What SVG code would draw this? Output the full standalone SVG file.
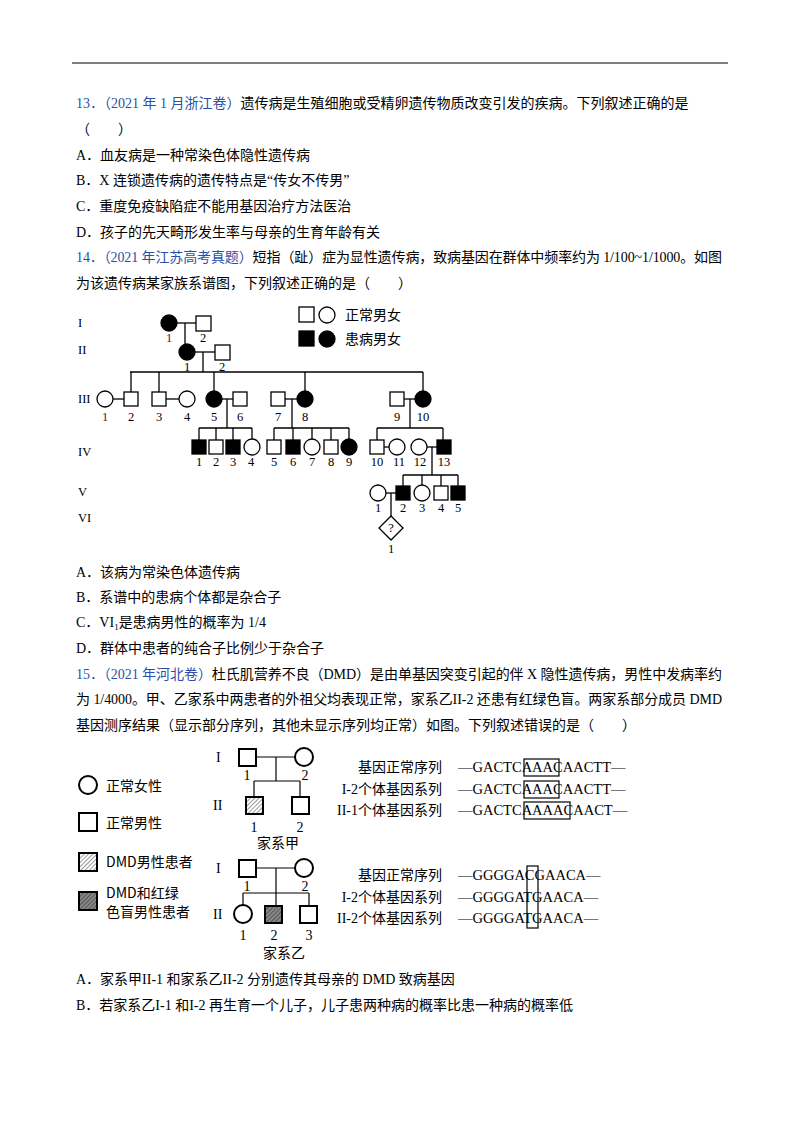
<svg xmlns="http://www.w3.org/2000/svg" width="800" height="1132" viewBox="0 0 800 1132">
<style>
text{font-family:"Liberation Serif","Noto Sans CJK SC",serif;font-size:14px;fill:#000}
.b{fill:#2a4fa8}
.s{font-size:12.5px;fill:#000}
.m{fill:none;stroke:#000;stroke-width:1.3}
.f{fill:#000;stroke:#000;stroke-width:1.3}
.h{fill:url(#hat);stroke:#000;stroke-width:2}
.h2{fill:url(#hat2);stroke:#000;stroke-width:2}
.o{fill:#fff;stroke:#000;stroke-width:2}
.c{fill:none;stroke:#000;stroke-width:1.3}
.c2{fill:none;stroke:#000;stroke-width:1.2}
.k{font-family:"Noto Sans CJK SC",sans-serif}
.sq{font-family:"Liberation Serif",serif;font-size:14.5px}
</style>
<defs>
<pattern id="hat" width="3" height="3" patternUnits="userSpaceOnUse" patternTransform="rotate(45)"><rect width="3" height="3" fill="#fff"/><line x1="0" y1="0" x2="0" y2="3" stroke="#555" stroke-width="1.2"/></pattern>
<pattern id="hat2" width="3" height="3" patternUnits="userSpaceOnUse" patternTransform="rotate(45)"><rect width="3" height="3" fill="#888"/><line x1="0" y1="0" x2="0" y2="3" stroke="#333" stroke-width="1.2"/></pattern>
</defs>
<line x1="72" y1="63" x2="728" y2="63" stroke="#000" stroke-width="1"/>
<text x="76" y="108"><tspan class="b">13．（2021 年 1 月浙江卷）</tspan>遗传病是生殖细胞或受精卵遗传物质改变引发的疾病。下列叙述正确的是</text>
<text x="76" y="134">（　　）</text>
<text x="76" y="160">A．血友病是一种常染色体隐性遗传病</text>
<text x="76" y="185">B．X 连锁遗传病的遗传特点是“传女不传男”</text>
<text x="76" y="211">C．重度免疫缺陷症不能用基因治疗方法医治</text>
<text x="76" y="237">D．孩子的先天畸形发生率与母亲的生育年龄有关</text>
<text x="76" y="262" textLength="646"><tspan class="b">14．（2021 年江苏高考真题）</tspan>短指（趾）症为显性遗传病，致病基因在群体中频率约为 1/100~1/1000。如图</text>
<text x="76" y="288">为该遗传病某家族系谱图，下列叙述正确的是（　　）</text>

<g id="pedigree14">
<g>
<text x="78" y="327" class="s">I</text><text x="78" y="354" class="s">II</text><text x="78" y="403" class="s">III</text><text x="78" y="456" class="s">IV</text><text x="78" y="496" class="s">V</text><text x="78" y="522" class="s">VI</text>
</g>
<g id="legend14">
<rect x="299" y="307" width="15" height="15" class="m"/><circle cx="327" cy="315" r="8" class="m"/>
<text x="345" y="320" font-size="12">正常男女</text>
<rect x="299" y="331" width="15" height="15" class="f"/><circle cx="327" cy="339" r="8" class="f"/>
<text x="345" y="344" font-size="12">患病男女</text>
</g>
<g id="connectors14" class="c">
<line x1="177" y1="323" x2="196" y2="323"/><line x1="185" y1="323" x2="185" y2="344"/>
<line x1="195" y1="352" x2="215" y2="352"/><line x1="203" y1="352" x2="203" y2="372"/>
<line x1="130" y1="372" x2="423" y2="372"/>
<line x1="131" y1="372" x2="131" y2="392"/><line x1="159" y1="372" x2="159" y2="392"/>
<line x1="214" y1="372" x2="214" y2="391"/><line x1="305" y1="372" x2="305" y2="391"/><line x1="423" y1="372" x2="423" y2="391"/>
<line x1="113" y1="399" x2="124" y2="399"/><line x1="166" y1="399" x2="179" y2="399"/>
<line x1="222" y1="399" x2="233" y2="399"/><line x1="227" y1="399" x2="227" y2="428"/>
<line x1="199" y1="428" x2="252" y2="428"/>
<line x1="199" y1="428" x2="199" y2="440"/><line x1="216" y1="428" x2="216" y2="440"/><line x1="233" y1="428" x2="233" y2="440"/><line x1="252" y1="428" x2="252" y2="439"/>
<line x1="285" y1="399" x2="297" y2="399"/><line x1="292" y1="399" x2="292" y2="428"/>
<line x1="274" y1="428" x2="349" y2="428"/>
<line x1="274" y1="428" x2="274" y2="440"/><line x1="293" y1="428" x2="293" y2="440"/><line x1="312" y1="428" x2="312" y2="439"/><line x1="331" y1="428" x2="331" y2="440"/><line x1="349" y1="428" x2="349" y2="439"/>
<line x1="404" y1="399" x2="415" y2="399"/><line x1="410" y1="399" x2="410" y2="428"/>
<line x1="377" y1="428" x2="443" y2="428"/>
<line x1="377" y1="428" x2="377" y2="440"/><line x1="443" y1="428" x2="443" y2="440"/>
<line x1="384" y1="447" x2="389" y2="447"/><line x1="427" y1="447" x2="437" y2="447"/>
<line x1="432" y1="447" x2="432" y2="475"/>
<line x1="403" y1="475" x2="458" y2="475"/>
<line x1="403" y1="475" x2="403" y2="486"/><line x1="422" y1="475" x2="422" y2="485"/><line x1="441" y1="475" x2="441" y2="486"/><line x1="458" y1="475" x2="458" y2="486"/>
<line x1="386" y1="493" x2="396" y2="493"/><line x1="391" y1="493" x2="391" y2="516"/>
</g>
<g id="nodes14">
<circle cx="169" cy="323" r="8" class="f"/><rect x="196" y="316" width="15" height="15" class="m"/>
<circle cx="187" cy="352" r="8" class="f"/><rect x="215" y="345" width="15" height="15" class="m"/>
<circle cx="105" cy="399" r="8" class="m"/><rect x="124" y="392" width="14" height="14" class="m"/>
<rect x="152" y="392" width="14" height="14" class="m"/><circle cx="187" cy="399" r="8" class="m"/>
<circle cx="214" cy="399" r="8" class="f"/><rect x="233" y="392" width="14" height="14" class="m"/>
<rect x="271" y="392" width="14" height="14" class="m"/><circle cx="305" cy="399" r="8" class="f"/>
<rect x="390" y="392" width="14" height="14" class="m"/><circle cx="423" cy="399" r="8" class="f"/>
<rect x="192" y="440" width="14" height="14" class="f"/><rect x="209" y="440" width="14" height="14" class="m"/>
<rect x="226" y="440" width="14" height="14" class="f"/><circle cx="252" cy="447" r="8" class="m"/>
<rect x="267" y="440" width="14" height="14" class="m"/><rect x="286" y="440" width="14" height="14" class="f"/>
<circle cx="312" cy="447" r="8" class="m"/><rect x="324" y="440" width="14" height="14" class="m"/>
<circle cx="349" cy="447" r="8" class="f"/>
<rect x="370" y="440" width="14" height="14" class="m"/><circle cx="397" cy="447" r="8" class="m"/>
<circle cx="419" cy="447" r="8" class="m"/><rect x="437" y="440" width="14" height="14" class="f"/>
<circle cx="378" cy="493" r="8" class="m"/><rect x="396" y="486" width="14" height="14" class="f"/>
<circle cx="422" cy="493" r="8" class="m"/><rect x="434" y="486" width="14" height="14" class="m"/>
<rect x="451" y="486" width="14" height="14" class="f"/>
<polygon points="391,516 403,528 391,540 379,528" class="m"/>
<text x="391" y="532" text-anchor="middle" class="s">?</text>
</g>
<g text-anchor="middle">
<text x="169" y="342" class="s" style="fill:#8b0000">1</text><text x="203" y="342" class="s">2</text>
<text x="187" y="371" class="s">1</text><text x="222" y="371" class="s">2</text>
<text x="105" y="421" class="s" style="fill:#8b0000">1</text><text x="131" y="421" class="s">2</text><text x="159" y="421" class="s">3</text><text x="187" y="421" class="s">4</text><text x="214" y="421" class="s">5</text><text x="240" y="421" class="s">6</text><text x="278" y="421" class="s">7</text><text x="305" y="421" class="s">8</text><text x="397" y="421" class="s">9</text><text x="423" y="421" class="s">10</text>
<text x="199" y="466" class="s">1</text><text x="216" y="466" class="s">2</text><text x="233" y="466" class="s">3</text><text x="251" y="466" class="s">4</text><text x="274" y="466" class="s">5</text><text x="293" y="466" class="s">6</text><text x="312" y="466" class="s">7</text><text x="331" y="466" class="s">8</text><text x="349" y="466" class="s">9</text><text x="377" y="466" class="s">10</text><text x="399" y="466" class="s">11</text><text x="420" y="466" class="s">12</text><text x="444" y="466" class="s">13</text>
<text x="378" y="512" class="s">1</text><text x="403" y="512" class="s">2</text><text x="422" y="512" class="s">3</text><text x="441" y="512" class="s">4</text><text x="458" y="512" class="s">5</text>
<text x="391" y="553" class="s">1</text>
</g>
</g>

<text x="76" y="577">A．该病为常染色体遗传病</text>
<text x="76" y="602">B．系谱中的患病个体都是杂合子</text>
<text x="76" y="627">C．VI<tspan font-size="9" dy="3">1</tspan><tspan dy="-3">是患病男性的概率为 1/4</tspan></text>
<text x="76" y="653">D．群体中患者的纯合子比例少于杂合子</text>
<text x="76" y="679" textLength="646"><tspan class="b">15．（2021 年河北卷）</tspan>杜氏肌营养不良（DMD）是由单基因突变引起的伴 X 隐性遗传病，男性中发病率约</text>
<text x="76" y="704" textLength="646">为 1/4000。甲、乙家系中两患者的外祖父均表现正常，家系乙II-2 还患有红绿色盲。两家系部分成员 DMD</text>
<text x="76" y="730">基因测序结果（显示部分序列，其他未显示序列均正常）如图。下列叙述错误的是（　　）</text>

<g id="figure15">
<g id="legend15">
<circle cx="88" cy="785" r="9" class="o"/><text x="106" y="791" class="k">正常女性</text>
<rect x="79" y="813" width="18" height="18" class="o"/><text x="106" y="828" class="k">正常男性</text>
<rect x="79" y="853" width="18" height="18" class="h"/><text x="106" y="867" class="k">DMD男性患者</text>
<rect x="79" y="892" width="18" height="18" class="h2"/><text x="106" y="898" class="k">DMD和红绿</text><text x="106" y="917" class="k">色盲男性患者</text>
</g>
<g id="connectors15" class="c2">
<line x1="256" y1="757" x2="295" y2="757"/><line x1="276" y1="757" x2="276" y2="781"/>
<line x1="254" y1="781" x2="300" y2="781"/><line x1="254" y1="781" x2="254" y2="796"/><line x1="300" y1="781" x2="300" y2="796"/>
<line x1="256" y1="868" x2="295" y2="868"/><line x1="276" y1="868" x2="276" y2="905"/>
<line x1="243" y1="893" x2="309" y2="893"/><line x1="243" y1="893" x2="243" y2="905"/><line x1="309" y1="893" x2="309" y2="905"/>
</g>
<g id="fam-jia">
<text x="216" y="762">I</text><text x="213" y="810">II</text>
<rect x="239" y="749" width="17" height="17" class="o"/><circle cx="304" cy="757" r="9" class="o"/>
<rect x="246" y="797" width="17" height="17" class="h"/><rect x="292" y="797" width="17" height="17" class="o"/>
<text x="247" y="780" text-anchor="middle">1</text><text x="305" y="780" text-anchor="middle">2</text>
<text x="254" y="832" text-anchor="middle">1</text><text x="300" y="832" text-anchor="middle">2</text>
<text x="278" y="848" text-anchor="middle" class="k">家系甲</text>
</g>
<g id="fam-yi">
<text x="216" y="873">I</text><text x="213" y="919">II</text>
<rect x="239" y="860" width="17" height="17" class="o"/><circle cx="304" cy="868" r="9" class="o"/>
<circle cx="243" cy="914" r="9" class="o"/><rect x="265" y="906" width="17" height="17" class="h2"/><rect x="300" y="906" width="17" height="17" class="o"/>
<text x="247" y="891" text-anchor="middle">1</text><text x="305" y="891" text-anchor="middle">2</text>
<text x="243" y="940" text-anchor="middle">1</text><text x="274" y="940" text-anchor="middle">2</text><text x="309" y="940" text-anchor="middle">3</text>
<text x="284" y="958" text-anchor="middle" class="k">家系乙</text>
</g>
<g id="seq">
<text x="442" y="772" text-anchor="end">基因正常序列</text>
<text x="442" y="794" text-anchor="end">I-2个体基因系列</text>
<text x="442" y="815" text-anchor="end">II-1个体基因系列</text>
<text x="458" y="772" class="sq">—GACTCAAACAACTT—</text>
<text x="458" y="794" class="sq">—GACTCAAACAACTT—</text>
<text x="458" y="815" class="sq">—GACTCAAAACAACT—</text>
<rect x="524" y="759" width="35" height="17" class="c2"/>
<rect x="524" y="781" width="35" height="17" class="c2"/>
<rect x="524" y="802" width="46" height="17" class="c2"/>
<text x="442" y="880" text-anchor="end">基因正常序列</text>
<text x="442" y="902" text-anchor="end">I-2个体基因系列</text>
<text x="442" y="923" text-anchor="end">II-2个体基因系列</text>
<text x="458" y="880" class="sq">—GGGGACGAACA—</text>
<text x="458" y="902" class="sq">—GGGGATGAACA—</text>
<text x="458" y="923" class="sq">—GGGGATGAACA—</text>
<rect x="527" y="866" width="11" height="62" class="c2"/>
</g>
</g>

<text x="76" y="984">A．家系甲II-1 和家系乙II-2 分别遗传其母亲的 DMD 致病基因</text>
<text x="76" y="1010">B．若家系乙I-1 和I-2 再生育一个儿子，儿子患两种病的概率比患一种病的概率低</text>
</svg>
